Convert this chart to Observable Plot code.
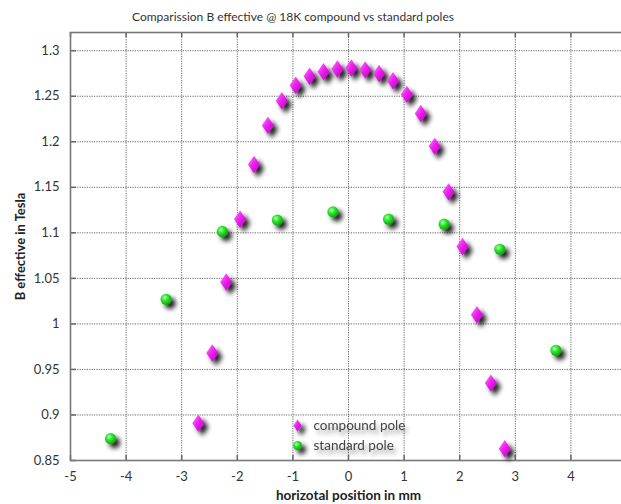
<!DOCTYPE html>
<html>
<head>
<meta charset="utf-8">
<script src="https://cdn.jsdelivr.net/npm/d3@7"></script>
<script src="https://cdn.jsdelivr.net/npm/@observablehq/plot@0.6"></script>
<style>
  html, body { margin: 0; padding: 0; background: #fff; overflow: hidden; width: 621px; height: 504px; }
  #title { height: 31px; width: 586px; text-align: center; font-family: Lato, "Open Sans", sans-serif; font-size: 12px; color: #333; line-height: 34px; }
  #chart svg { max-width: none !important; }
</style>
</head>
<body>
<div id="title">Comparission B effective @ 18K compound vs standard poles</div>
<div id="chart"></div>
<script>
// ---- data ----
const compoundX = [-2.70, -2.45, -2.20, -1.95, -1.70, -1.45, -1.20, -0.95, -0.70, -0.45, -0.20, 0.05,
                   0.30, 0.55, 0.80, 1.05, 1.30, 1.55, 1.80, 2.05, 2.31, 2.56, 2.81];
const compoundB = [0.891, 0.968, 1.046, 1.115, 1.175, 1.218, 1.245, 1.262, 1.272, 1.277, 1.280, 1.281,
                   1.279, 1.275, 1.267, 1.252, 1.231, 1.195, 1.145, 1.085, 1.010, 0.935, 0.863];
const standardX = [-4.28, -3.28, -2.27, -1.28, -0.28, 0.72, 1.72, 2.72, 3.73];
const standardB = [0.874, 1.027, 1.1015, 1.114, 1.123, 1.115, 1.1095, 1.082, 0.971];
const xTicks = [-5, -4, -3, -2, -1, 0, 1, 2, 3, 4];
const yTicks = [0.85, 0.9, 0.95, 1, 1.05, 1.1, 1.15, 1.2, 1.25, 1.3];
const seriesNames = ["compound pole", "standard pole"];
const xLabel = "horizotal position in mm";
const yLabel = "B effective in Tesla";

const compound = compoundX.map((x, i) => ({x, b: compoundB[i]}));
const standard = standardX.map((x, i) => ({x, b: standardB[i]}));

const W = 626, H = 473, ML = 70, MR = 0, MT = 1, MB = 44;
const FW = W - ML - MR, FH = H - MT - MB;

const tallDiamond = {
  draw(ctx, size) {
    const r = Math.sqrt(size / Math.PI);
    const w = r * 0.7;
    ctx.moveTo(0, -r);
    ctx.lineTo(w, 0);
    ctx.lineTo(0, r);
    ctx.lineTo(-w, 0);
    ctx.closePath();
  }
};

const grid = {stroke: "#666", strokeWidth: 1, strokeDasharray: "1.2,1.2"};

const svg = Plot.plot({
  width: W, height: H,
  marginLeft: ML, marginRight: MR, marginTop: MT, marginBottom: MB,
  style: {fontFamily: "Lato, 'Open Sans', sans-serif", fontSize: "13px", color: "#333", background: "#fff"},
  x: {domain: [-5, 5], ticks: xTicks, tickSize: 0, tickPadding: 11, label: null, tickFormat: d => String(d)},
  y: {domain: [0.85, 1.32], ticks: yTicks, tickSize: 0, tickPadding: 11, label: null, tickFormat: d => String(+d.toFixed(2))},
  marks: [
    Plot.ruleX(xTicks.slice(1), {x: d => d, ...grid}),
    Plot.ruleY(yTicks.slice(1), {y: d => d, ...grid}),
    Plot.tickX(xTicks, {x: d => d, insetTop: FH - 5, stroke: "#666", strokeWidth: 1.5}),
    Plot.tickX(xTicks, {x: d => d, insetBottom: FH - 5, stroke: "#666", strokeWidth: 1.5}),
    Plot.tickY(yTicks, {y: d => d, insetRight: FW - 6, stroke: "#666", strokeWidth: 1.5}),
    Plot.frame({stroke: "#777", strokeWidth: 1.6}),
    Plot.dot(standard, {x: "x", y: "b", r: 5.6, fill: "url(#greenGrad)", stroke: "none"}),
    Plot.dot(compound, {x: "x", y: "b", r: 8.7, symbol: tallDiamond, fill: "url(#magGrad)", stroke: "none"}),
    // legend
    Plot.dot([seriesNames[0]], {frameAnchor: "bottom-left", dx: 227, dy: -35, r: 6, symbol: tallDiamond, fill: "url(#magGrad)", stroke: "none"}),
    Plot.dot([seriesNames[1]], {frameAnchor: "bottom-left", dx: 227, dy: -15, r: 4.5, fill: "url(#greenGrad)", stroke: "none"}),
    Plot.text([seriesNames[0]], {frameAnchor: "bottom-left", dx: 243, dy: -35, text: d => d, textAnchor: "start", lineAnchor: "middle", fill: "#444", fontSize: 13.5}),
    Plot.text([seriesNames[1]], {frameAnchor: "bottom-left", dx: 243, dy: -15, text: d => d, textAnchor: "start", lineAnchor: "middle", fill: "#444", fontSize: 13.5}),
    // axis labels
    Plot.text([xLabel], {frameAnchor: "bottom", dy: 35, text: d => d, textAnchor: "middle", lineAnchor: "middle", fontWeight: "bold", fontSize: 13.5, fill: "#222"}),
    Plot.text([yLabel], {frameAnchor: "left", dx: -50, rotate: -90, text: d => d, textAnchor: "middle", lineAnchor: "middle", fontWeight: "bold", fontSize: 13, fill: "#222"})
  ]
});

d3.select(svg).insert("defs", ":first-child").html(`
  <linearGradient id="magGrad" x1="0" y1="0" x2="1" y2="1">
    <stop offset="0" stop-color="#ff8cff"/>
    <stop offset="0.45" stop-color="#ee22ee"/>
    <stop offset="1" stop-color="#b000b8"/>
  </linearGradient>
  <radialGradient id="greenGrad" cx="0.38" cy="0.35" r="0.7">
    <stop offset="0" stop-color="#c8ffc8"/>
    <stop offset="0.35" stop-color="#33ee33"/>
    <stop offset="1" stop-color="#0a9a0a"/>
  </radialGradient>
  <filter id="shadow" x="-80%" y="-80%" width="300%" height="300%">
    <feGaussianBlur in="SourceAlpha" stdDeviation="2.7"/>
    <feOffset dx="3.5" dy="4"/>
    <feComponentTransfer><feFuncA type="linear" slope="0.9"/></feComponentTransfer>
    <feMerge><feMergeNode/><feMergeNode in="SourceGraphic"/></feMerge>
  </filter>
  <filter id="tshadow" x="-20%" y="-60%" width="140%" height="260%">
    <feGaussianBlur in="SourceAlpha" stdDeviation="2.2"/>
    <feOffset dx="3" dy="4"/>
    <feComponentTransfer><feFuncA type="linear" slope="0.4"/></feComponentTransfer>
    <feMerge><feMergeNode/><feMergeNode in="SourceGraphic"/></feMerge>
  </filter>
`);
d3.select(svg).selectAll("g[aria-label='dot'] path, g[aria-label='dot'] circle")
  .attr("filter", "url(#shadow)");
d3.select(svg).selectAll("g[aria-label='text'] text")
  .filter(function() { return seriesNames.includes(this.textContent); })
  .attr("filter", "url(#tshadow)");

document.getElementById("chart").appendChild(svg);
</script>
</body>
</html>
